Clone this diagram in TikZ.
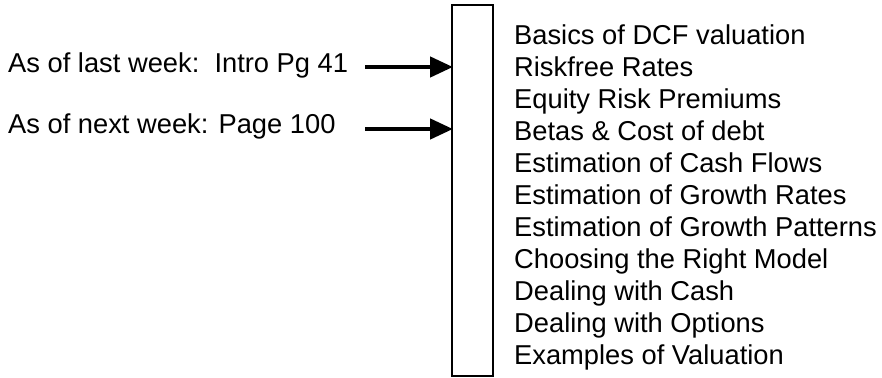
\documentclass[tikz,border=0pt]{standalone}
\usepackage{fontspec}
\setmainfont{Liberation Sans}
\usetikzlibrary{arrows.meta}
\tikzset{
  label text/.style={anchor=base west, inner sep=0pt, font=\fontsize{27.3}{30}\selectfont},
  pointer/.style={line width=4.5pt, -{Triangle[length=23pt, width=20pt]}},
}
\begin{document}
\begin{tikzpicture}[x=1pt, y=-1pt]
  \useasboundingbox (0,0) rectangle (882,377);

  % the vertical bar
  \draw [line width=1.2pt] (452,5) rectangle (493,376);
  \coordinate (mark1) at (453,67);
  \coordinate (mark2) at (453,129);

  % where we stand
  \node [label text] (last) at (8,73) {As of last week:\ \ Intro Pg 41};
  \node [label text] (next) at (8,133) {As of next week: Page 100};
  \coordinate (tail1) at (365,67);
  \coordinate (tail2) at (365,129);
  \draw [pointer] (tail1) -- (mark1);
  \draw [pointer] (tail2) -- (mark2);

  % list of topics
  \foreach \topic [count=\i from 0] in {Basics of DCF valuation, Riskfree Rates,
      Equity Risk Premiums, Betas \& Cost of debt, Estimation of Cash Flows,
      Estimation of Growth Rates, Estimation of Growth Patterns,
      Choosing the Right Model, Dealing with Cash, Dealing with Options,
      Examples of Valuation}
    \node [label text] (topic\i) at (514,45+31.9*\i) {\topic};
\end{tikzpicture}
\end{document}
